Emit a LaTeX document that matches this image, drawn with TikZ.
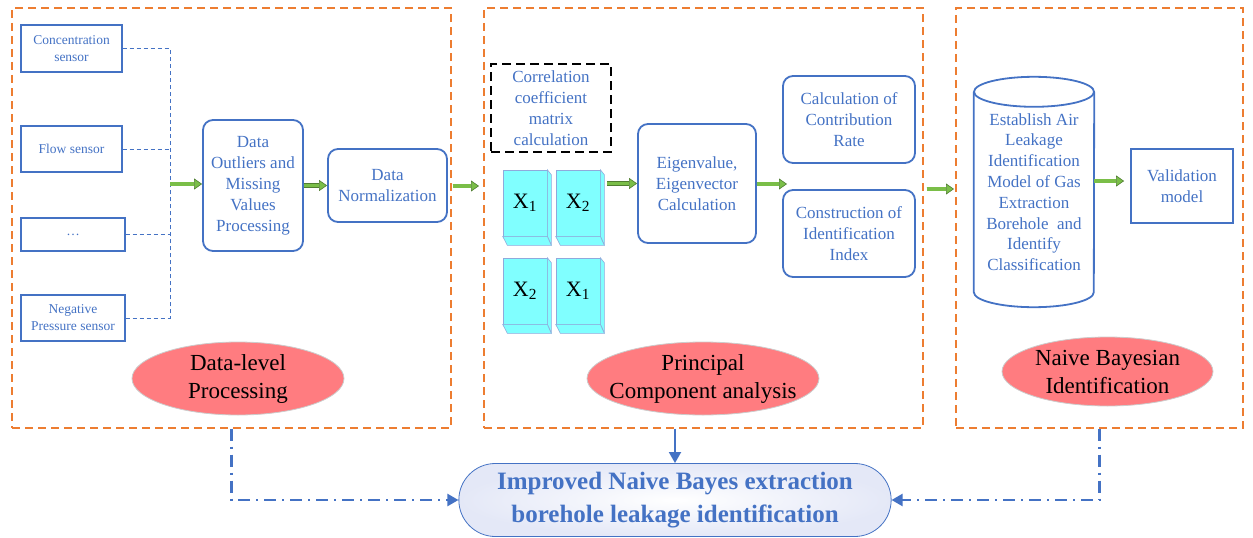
\documentclass[tikz,border=0pt]{standalone}
\usepackage{fontspec}
\setmainfont{Liberation Serif}
\usetikzlibrary{arrows.meta, shapes.misc, shapes.geometric, calc}

\definecolor{boxblue}{RGB}{68,114,196}
\definecolor{panelorange}{RGB}{237,125,49}
\definecolor{arrowgreen}{RGB}{122,190,72}
\definecolor{arrowdark}{RGB}{80,125,50}
\definecolor{ovalred}{RGB}{255,124,128}
\definecolor{blockcyan}{RGB}{128,255,255}
\definecolor{blockedge}{RGB}{143,170,220}
\definecolor{pilllav}{RGB}{228,232,247}

\tikzset{
  panel/.style={draw=panelorange, line width=1.2pt, dash pattern=on 8pt off 5pt},
  sensor/.style={draw=boxblue, line width=1.1pt, text=boxblue, align=center,
    font=\fontsize{13.5}{17}\selectfont, inner sep=0pt},
  stage/.style={draw=boxblue, line width=1.8pt, rounded corners=10pt, text=boxblue,
    align=center, font=\fontsize{17}{21}\selectfont, inner sep=0pt},
  titleoval/.style={ellipse, fill=ovalred, draw=black!20, line width=0.8pt,
    align=center, font=\fontsize{23}{28}\selectfont, inner xsep=-30pt, inner ysep=-10pt},
  block/.style={draw=blockedge, fill=blockcyan, line width=0.6pt, inner sep=0pt,
    minimum width=44pt, minimum height=66pt, font=\fontsize{22}{22}\selectfont},
  blockface/.style={draw=blockedge, fill=blockcyan, line width=0.6pt},
  busline/.style={draw=boxblue, line width=1pt, dash pattern=on 4pt off 3pt},
  greenarrow/.style={draw=arrowdark, line width=0.6pt, double=arrowgreen, double distance=3.5pt,
    -{Triangle[length=8pt, width=11pt, fill=arrowgreen]}},
  linkline/.style={draw=boxblue, line width=2.4pt,
    dash pattern=on 12pt off 6pt on 2pt off 6pt, -{Triangle[length=11pt, width=12pt]}},
}

\begin{document}
\begin{tikzpicture}[x=1pt, y=-1pt]
  \useasboundingbox (0,0) rectangle (1253,538);

  % three stage panels
  \node[panel, minimum width=439, minimum height=420] (dlp) at (231.5,218) {};
  \node[panel, minimum width=439, minimum height=420] (pca) at (703.5,218) {};
  \node[panel, minimum width=287, minimum height=420] (nbi) at (1099.5,218) {};

  % data-level processing
  \node[sensor, minimum width=101, minimum height=47] (conc) at (71.5,48.5) {Concentration\\sensor};
  \node[sensor, minimum width=101, minimum height=46] (flow) at (71.5,149) {Flow sensor};
  \node[sensor, minimum width=104, minimum height=33] (dots) at (73,234.5) {\dots};
  \node[sensor, minimum width=104, minimum height=46] (negp) at (73,318) {Negative\\Pressure sensor};
  \coordinate (bus) at (170,184);
  \draw[busline] (conc.east) -| (bus);
  \draw[busline] (negp.east) -| (bus);
  \draw[busline] (flow.east) -- (flow.east -| bus);
  \draw[busline] (dots.east) -- (dots.east -| bus);

  \node[stage, minimum width=100, minimum height=131] (outl) at (253,185.5)
    {Data\\Outliers and\\Missing\\Values\\Processing};
  \node[stage, minimum width=119, minimum height=73] (norm) at (387.5,185.5) {Data\\Normalization};
  \draw[greenarrow] (bus) -- (bus -| outl.west);
  \draw[greenarrow] (outl.east) -- (norm.west);

  \node[titleoval, minimum width=212, minimum height=73] (dlpo) at (238,378.5) {Data-level\\Processing};

  % principal component analysis
  \coordinate (pcain) at (479,186);
  \draw[greenarrow] (dlp.east |- pcain) ++(1,0) -- (pcain);

  \node[stage, rounded corners=0pt, draw=black, text=boxblue, dash pattern=on 9pt off 5pt,
    minimum width=120, minimum height=88] (corr) at (551,108)
    {Correlation\\coefficient\\matrix\\calculation};

  \foreach \nm/\xx/\yy/\sub in {xa/525/203/1, xb/578/203/2, xc/525/291/2, xd/578/291/1} {
    \node[block] (\nm) at (\xx,\yy) {X\textsubscript{\sub}};
    \draw[blockface] (\nm.north east) -- ++(4,5) -- ++(0,70) -- (\nm.south east) -- cycle;
    \draw[blockface] (\nm.south west) -- (\nm.south east) -- ++(4,9) -- ++(-44,0) -- cycle;
  }

  \node[stage, minimum width=118, minimum height=119] (eig) at (697,183.5)
    {Eigenvalue,\\Eigenvector\\Calculation};
  \draw[greenarrow] ($(xb.east |- eig.west)+(7,0)$) -- (eig.west);

  \node[stage, minimum width=132, minimum height=87] (contr) at (849,119.5)
    {Calculation of\\Contribution\\Rate};
  \node[stage, minimum width=132, minimum height=87] (constr) at (849,233.5)
    {Construction of\\Identification\\Index};
  \coordinate (split) at (787,184);
  \draw[greenarrow] (eig.east |- split) -- (split);

  \node[titleoval, minimum width=232, minimum height=73] (pcao) at (703,378.5)
    {Principal\\Component analysis};

  % naive bayesian identification
  \coordinate (nbiin) at (954,189);
  \draw[greenarrow] (pca.east |- nbiin) ++(3,0) -- (nbiin);

  \node[text=boxblue, align=center, font=\fontsize{17}{20.8}\selectfont, inner sep=0pt,
    minimum width=120, minimum height=230] (model) at (1034,192)
    {Establish Air\\Leakage\\Identification\\Model of Gas\\Extraction\\Borehole~ and\\Identify\\Classification};
  \draw[boxblue, line width=1.8pt] ($(model.north)+(0,15)$) ellipse [x radius=60, y radius=15];
  \draw[boxblue, line width=1.8pt] ($(model.north west)+(0,15)$) -- ($(model.south west)+(0,-15)$)
    arc [start angle=180, end angle=0, x radius=60, y radius=15] -- ($(model.north east)+(0,15)$);

  \node[stage, rounded corners=0pt, minimum width=102, minimum height=74] (valid) at (1182,186)
    {Validation\\model};
  \draw[greenarrow] (model.east |- 0,181) -- ($(valid.west |- 0,181)+(-6,0)$);

  \node[titleoval, minimum width=211, minimum height=69] (nbio) at (1107.5,371.5)
    {Naive Bayesian\\Identification};

  % overall result
  \node[rounded rectangle, draw=boxblue, line width=0.8pt, inner color=white, outer color=pilllav,
    minimum width=439, minimum height=73, text=boxblue, align=center,
    font=\bfseries\fontsize{25}{33}\selectfont] (result) at (675,500)
    {Improved Naive Bayes extraction\\borehole leakage identification};
  \draw[boxblue, line width=1.8pt, -{Triangle[length=11pt, width=12pt]}]
    (result.north |- pca.south) -- (result.north);
  \draw[linkline] (dlp.south) |- (result.west);
  \draw[linkline] (nbi.south) |- (result.east);
\end{tikzpicture}
\end{document}
